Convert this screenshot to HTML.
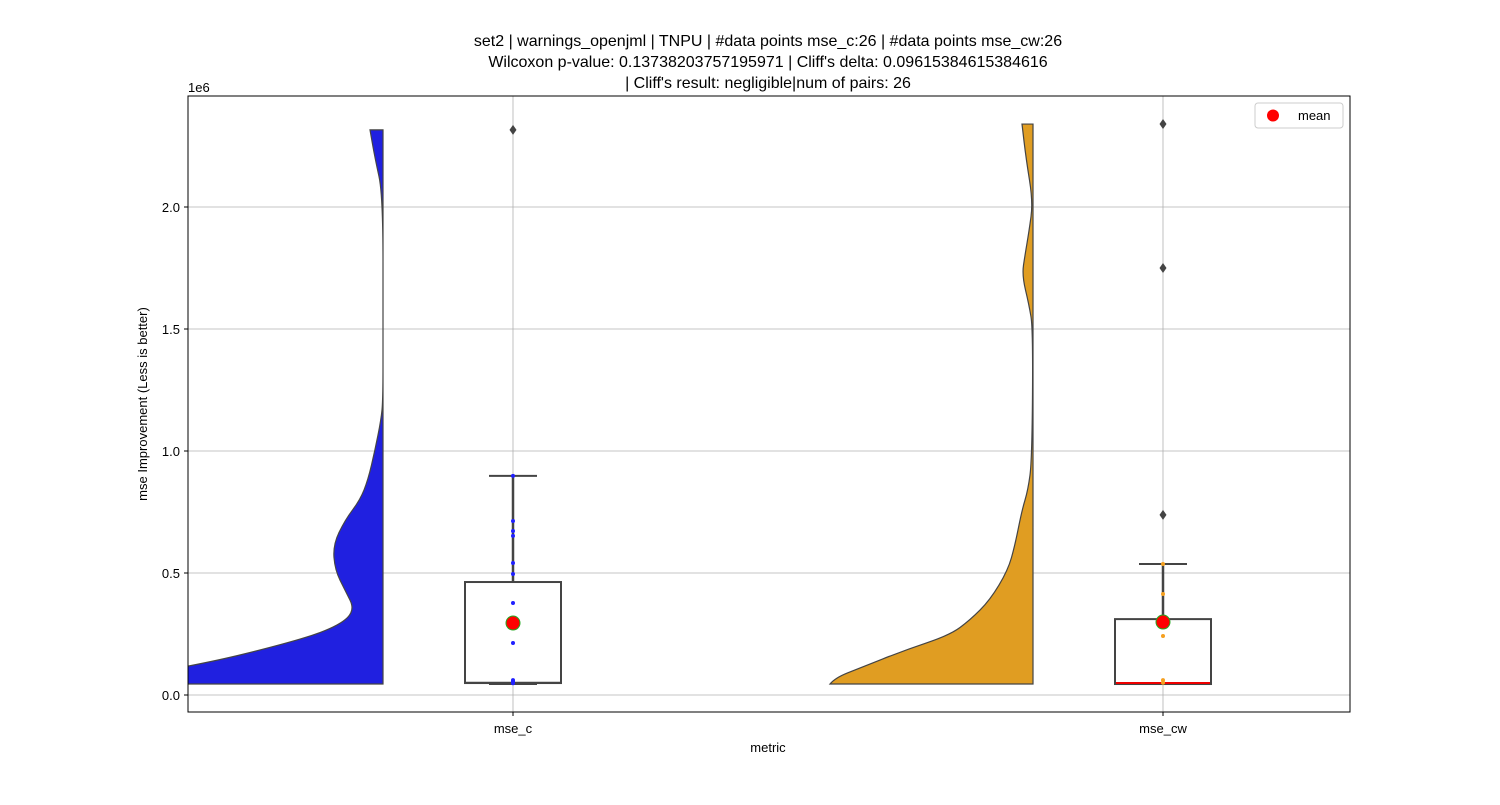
<!DOCTYPE html>
<html><head><meta charset="utf-8"><style>body{margin:0;background:#fff}svg{font-family:"Liberation Sans","DejaVu Sans",sans-serif}</style></head>
<body>
<svg id="c" width="1500" height="800"></svg>
<script>
const categories=["mse_c","mse_cw"];
const yTicks=[0,0.5,1.0,1.5,2.0];
const yTickLabels=["0.0","0.5","1.0","1.5","2.0"];
const boxQ1=[0.049,0.045];
const boxMedian=[0.05,0.049];
const boxQ3=[0.463,0.311];
const whiskerLow=[0.045,0.045];
const whiskerHigh=[0.898,0.537];
const means=[0.295,0.299];
const outliersC=[2.316];
const outliersCW=[2.34,1.75,0.738];
const pointsC=[0.898,0.713,0.672,0.652,0.541,0.496,0.377,0.213,0.061,0.057,0.05,0.048];
const pointsCW=[0.537,0.414,0.242,0.061,0.05];
const violinCVals=[0.045,0.111,0.225,0.287,0.348,0.43,0.512,0.615,0.717,0.799,0.881,1.004,1.127,1.209,1.5,2.05,2.2,2.316];
const violinCWidth=[300,195,83,43,28,38,48,50,38,23,15,8,2,0,0,0,8,13];
const violinCWVals=[0.045,0.07,0.111,0.184,0.246,0.307,0.389,0.512,0.615,0.758,0.84,0.963,1.5,1.6,1.72,1.803,1.9,2.02,2.2,2.34];
const violinCWWidth=[203,198,173,128,83,63,43,25,18,11,5,1,0,4,11,8,4,0,7,11];
const NS="http://www.w3.org/2000/svg";
const svg=document.getElementById('c');
const L=188,R=1350,T=96,B=712;
const catX=[513,1163];
const vEdge=[383,1033];
const Y=v=>695-v*244;
function mk(t,a,p){const e=document.createElementNS(NS,t);for(const k in a)e.setAttribute(k,a[k]);(p||svg).appendChild(e);return e;}
const defs=mk('defs',{});const cp=mk('clipPath',{id:'pc'},defs);mk('rect',{x:L,y:T,width:R-L,height:B-T},cp);
yTicks.forEach((v,i)=>{const g=mk('line',{x1:L,x2:R,y1:Y(v),y2:Y(v),stroke:'#b0b0b0','stroke-width':0.8});


mk('line',{x1:L-4,x2:L,y1:Y(v),y2:Y(v),stroke:'#000'});
const t=mk('text',{x:L-8,y:Y(v)+5,'text-anchor':'end','font-size':13});t.textContent=yTickLabels[i];

});
categories.forEach((c,i)=>{const g=mk('line',{x1:catX[i],x2:catX[i],y1:T,y2:B,stroke:'#b0b0b0','stroke-width':0.8});


mk('line',{x1:catX[i],x2:catX[i],y1:B,y2:B+4,stroke:'#000'});
const t=mk('text',{x:catX[i],y:B+21,'text-anchor':'middle','font-size':13});t.textContent=c;

});
function violin(vals,w,i,col,name){
const P=vals.map((v,k)=>[vEdge[i]-w[k],Y(v)]);
let d='M'+vEdge[i]+','+P[0][1]+' L'+P[0][0]+','+P[0][1];
for(let k=1;k<P.length-1;k++){const mx=(P[k][0]+P[k+1][0])/2,my=(P[k][1]+P[k+1][1])/2;d+=' Q'+P[k][0]+','+P[k][1]+' '+mx+','+my;}
const Lp=P[P.length-1];d+=' L'+Lp[0]+','+Lp[1]+' L'+vEdge[i]+','+Lp[1]+' Z';
const p=mk('path',{d:d,fill:col,stroke:'#444','stroke-width':1.2,'clip-path':'url(#pc)'});

}
violin(violinCVals,violinCWidth,0,'#2020e0','violin-mse-c');
violin(violinCWVals,violinCWWidth,1,'#e09d22','violin-mse-cw');
const hw=[48,48];
categories.forEach((c,i)=>{const x=catX[i];
mk('line',{x1:x,x2:x,y1:Y(boxQ3[i]),y2:Y(whiskerHigh[i]),stroke:'#444','stroke-width':2.5});
mk('line',{x1:x-24,x2:x+24,y1:Y(whiskerHigh[i]),y2:Y(whiskerHigh[i]),stroke:'#444','stroke-width':2});
mk('line',{x1:x-24,x2:x+24,y1:Y(whiskerLow[i]),y2:Y(whiskerLow[i]),stroke:'#444','stroke-width':2});
const b=mk('rect',{x:x-hw[i],y:Y(boxQ3[i]),width:hw[i]*2,height:Y(boxQ1[i])-Y(boxQ3[i]),fill:'#fff',stroke:'#444','stroke-width':2});


mk('line',{x1:x-hw[i]+1,x2:x+hw[i]-1,y1:Y(boxMedian[i]),y2:Y(boxMedian[i]),stroke:i?'#e00':'#444','stroke-width':2});
});
function pts(arr,i,col){arr.forEach(v=>{const p=mk('circle',{cx:catX[i],cy:Y(v),r:2,fill:col});

});}
pts(pointsC,0,'#2020ff');pts(pointsCW,1,'#f5a020');
function outl(arr,i){arr.forEach(v=>{const y=Y(v),x=catX[i];const p=mk('polygon',{points:`${x},${y-5} ${x+3.5},${y} ${x},${y+5} ${x-3.5},${y}`,fill:'#444'});

});}
outl(outliersC,0);outl(outliersCW,1);
means.forEach((m,i)=>{const p=mk('circle',{cx:catX[i],cy:Y(m),r:7,fill:'#f00',stroke:'#2a2','stroke-width':1});

});
mk('rect',{x:L,y:T,width:R-L,height:B-T,fill:'none',stroke:'#000','stroke-width':1});
function txt(x,y,s,sz,name,extra){const t=mk('text',Object.assign({x:x,y:y,'font-size':sz,'text-anchor':'middle'},extra||{}));t.textContent=s;

return t;}
txt(768,46,"set2 | warnings_openjml | TNPU | #data points mse_c:26 | #data points mse_cw:26",16,'title-line-1');
txt(768,67,"Wilcoxon p-value: 0.13738203757195971 | Cliff's delta: 0.09615384615384616",16,'title-line-2');
txt(768,88,"| Cliff's result: negligible|num of pairs: 26",16,'title-line-3');
txt(768,752,"metric",13,'x-axis-title');
txt(147,404,"mse Improvement (Less is better)",13,'y-axis-title',{transform:'rotate(-90 147 404)'});
txt(188,92,"1e6",13,'y-offset-label',{'text-anchor':'start'});
const lg=mk('g',{});
mk('rect',{x:1255,y:103,width:88,height:25,rx:3,fill:'#fff',stroke:'#ccc'},lg);
mk('circle',{cx:1273,cy:115.5,r:6,fill:'#f00'},lg);
const lt=mk('text',{x:1298,y:120,'font-size':13},lg);lt.textContent='mean';
</script>
</body></html>
